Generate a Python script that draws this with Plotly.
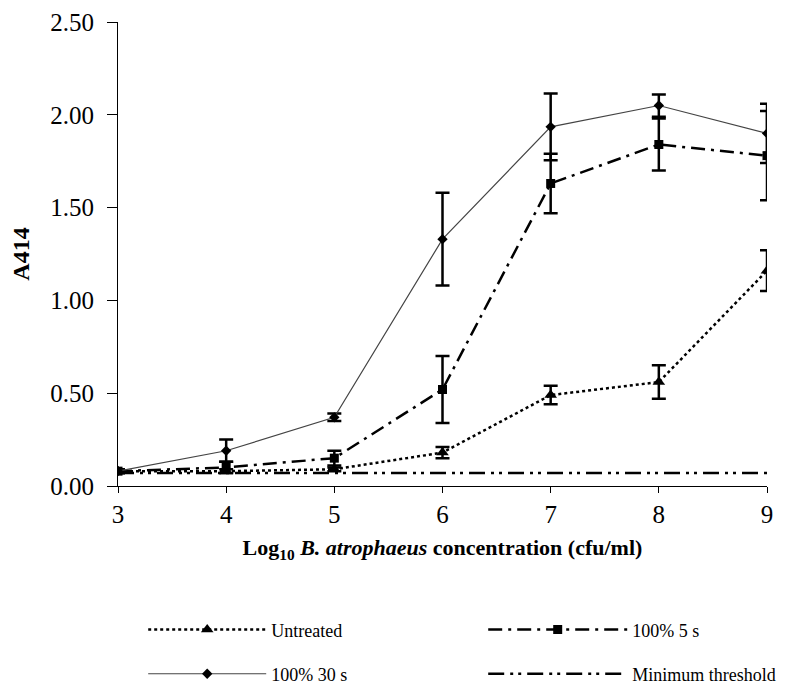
import plotly.graph_objects as go

# log10 concentration
conc = [3, 4, 5, 6, 7, 8, 9]

# A414 readings and error
untreated = [0.08, 0.08, 0.09, 0.18, 0.49, 0.56, 1.16]
untreated_err = [0.01, 0.01, 0.01, 0.03, 0.05, 0.09, 0.11]

t5s = [0.08, 0.10, 0.15, 0.52, 1.63, 1.84, 1.78]
t5s_err = [0.01, 0.03, 0.04, 0.18, 0.16, 0.14, 0.24]

t30s = [0.08, 0.19, 0.37, 1.33, 1.935, 2.05, 1.90]
t30s_err = [0.01, 0.06, 0.02, 0.25, 0.18, 0.06, 0.16]

threshold = [0.07, 0.07, 0.07, 0.07, 0.07, 0.07, 0.07]

font = "Liberation Serif, Times New Roman, serif"
err_style = dict(type="data", thickness=2.5, width=7, color="black")

fig = go.Figure()

fig.add_trace(go.Scatter(
    x=conc, y=untreated, name="Untreated", mode="lines+markers", legend="legend",
    line=dict(color="black", width=2.5, dash="dot"),
    marker=dict(symbol="triangle-up", size=11, color="black"),
    error_y=dict(array=untreated_err, **err_style)))

fig.add_trace(go.Scatter(
    x=conc, y=t5s, name="100% 5 s", mode="lines+markers", legend="legend2",
    line=dict(color="black", width=2.5, dash="14px,6px,3px,6px"),
    marker=dict(symbol="square", size=9, color="black"),
    error_y=dict(array=t5s_err, **err_style)))

fig.add_trace(go.Scatter(
    x=conc, y=t30s, name="100% 30 s", mode="lines+markers", legend="legend3",
    line=dict(color="#444444", width=1.2),
    marker=dict(symbol="diamond", size=8, color="black"),
    error_y=dict(array=t30s_err, **err_style)))

fig.add_trace(go.Scatter(
    x=conc, y=threshold, name="Minimum threshold", mode="lines", legend="legend4",
    line=dict(color="black", width=2.5, dash="16px,6px,3px,5px,3px,6px")))

leg = dict(orientation="h", xref="container", yref="container",
           xanchor="left", yanchor="middle",
           font=dict(size=18, family=font), bgcolor="rgba(0,0,0,0)")
row1, row2 = 0.0987, 0.0347
col1, col2 = 0.169, 0.594

# the page adds an 8px body margin, so the margins are shifted by that
fig.update_layout(
    width=800, height=690,
    margin=dict(l=110, r=41, t=14, b=212),
    paper_bgcolor="white", plot_bgcolor="white",
    font=dict(family=font, size=20, color="black"),
    showlegend=True,
    legend=dict(leg, x=col1, y=row1, itemwidth=118),
    legend2=dict(leg, x=col2, y=row1, itemwidth=139),
    legend3=dict(leg, x=col1, y=row2, itemwidth=118),
    legend4=dict(leg, x=col2, y=row2, itemwidth=139),
)

fig.update_xaxes(
    range=[3, 9], tickmode="array", tickvals=conc,
    showline=True, linecolor="black", linewidth=1,
    ticks="outside", ticklen=6, tickcolor="black", ticklabelstandoff=0,
    showgrid=False, zeroline=False, automargin=False,
    tickfont=dict(size=25),
    title=dict(text="<b>Log<sub>10</sub> <i>B. atrophaeus</i> concentration (cfu/ml)</b>",
               font=dict(size=22), standoff=12),
)

fig.update_yaxes(
    range=[0, 2.5], tickvals=[0, 0.5, 1.0, 1.5, 2.0, 2.5], tickformat=".2f",
    showline=True, linecolor="black", linewidth=1,
    ticks="outside", ticklen=10, tickcolor="black", ticklabelstandoff=8,
    showgrid=False, zeroline=False, automargin=False,
    tickfont=dict(size=25),
    title=dict(text="<b>A414</b>", font=dict(size=24), standoff=14),
)

fig.write_html("out.html")
